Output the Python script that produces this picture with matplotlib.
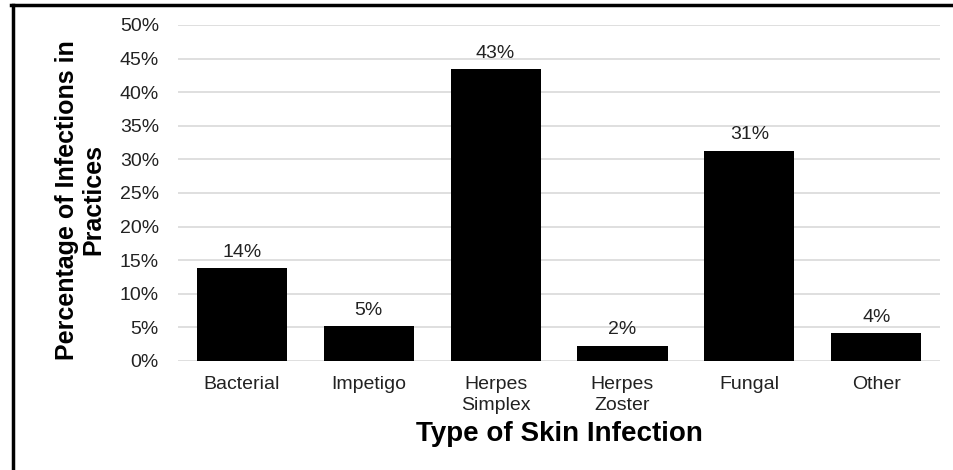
import matplotlib.pyplot as plt
from matplotlib.lines import Line2D
from matplotlib.ticker import PercentFormatter

categories = ["Bacterial", "Impetigo", "Herpes\nSimplex", "Herpes\nZoster", "Fungal", "Other"]
values = [13.8, 5.2, 43.4, 2.3, 31.3, 4.1]
labels = ["14%", "5%", "43%", "2%", "31%", "4%"]
yticks = [0, 5, 10, 15, 20, 25, 30, 35, 40, 45, 50]

plt.rcParams["font.family"] = ["Liberation Sans", "DejaVu Sans"]

fig = plt.figure(figsize=(9.54, 4.70), dpi=100)
ax = fig.add_axes([0.187, 0.232, 0.798, 0.715])

x = range(len(categories))
bars = ax.bar(x, values, width=0.71, color="black", zorder=3)
for bar, lab in zip(bars, labels):
    ax.text(bar.get_x() + bar.get_width() / 2, bar.get_height() + 1.1, lab,
            ha="center", va="bottom", fontsize=14, color="#222222")

ax.set_xlim(-0.5, len(categories) - 0.5)
ax.set_ylim(0, 50)
ax.set_yticks(yticks)
ax.yaxis.set_major_formatter(PercentFormatter(decimals=0))
ax.set_xticks(list(x))
ax.set_xticklabels(categories, fontsize=14, color="#222222", linespacing=1.3)
ax.tick_params(axis="y", labelsize=14, labelcolor="#222222", length=0, pad=14)
ax.tick_params(axis="x", length=0, pad=11)
ax.grid(axis="y", color="#d9d9d9", linewidth=1.2, zorder=0)
for s in ax.spines.values():
    s.set_visible(False)

ax.set_xlabel("Type of Skin Infection", fontsize=20, fontweight="bold", labelpad=5)
fig.text(0.084, 0.575, "Percentage of Infections in\nPractices", rotation=90,
         fontsize=18, fontweight="bold", ha="center", va="center",
         multialignment="center", linespacing=1.1)

# frame lines on the left and top
fig.add_artist(Line2D([0.0135, 0.0135], [0.0, 0.989], transform=fig.transFigure,
                      color="black", linewidth=2.5))
fig.add_artist(Line2D([0.012, 1.0], [0.989, 0.989], transform=fig.transFigure,
                      color="black", linewidth=2.5))

fig.savefig("out.png", dpi=100)
